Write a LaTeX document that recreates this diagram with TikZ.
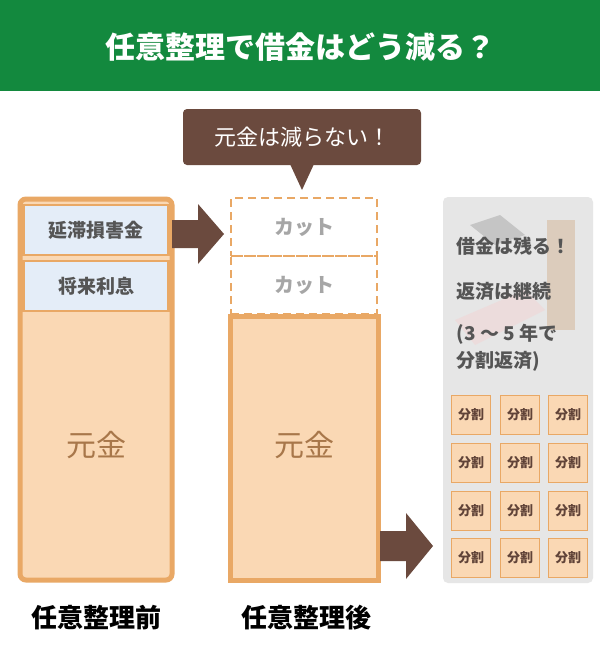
\documentclass[tikz,border=0pt]{standalone}
\usepackage{fontspec}
\setmainfont{Noto Sans CJK JP}
\definecolor{hdr}{HTML}{13893E}
\definecolor{brn}{HTML}{6B4A3E}
\definecolor{org}{HTML}{E9A865}
\definecolor{orgf}{HTML}{FAD8B4}
\definecolor{blu}{HTML}{E4EDF8}
\definecolor{gentxt}{HTML}{A8774A}
\definecolor{pnl}{HTML}{E6E6E6}
\definecolor{dk}{HTML}{555555}
\begin{document}
\begin{tikzpicture}[x=1pt,y=-1pt,
  px/.style={font=\fontsize{#1}{#1}\selectfont},
  cell/.style={draw=org,line width=2.5pt,fill=blu,minimum width=145pt,minimum height=50pt,inner sep=0pt,font=\fontsize{19}{19}\selectfont\bfseries,text=dk},
  cut/.style={draw=org,line width=2.5pt,dashed,dash pattern=on 8pt off 5pt,minimum width=146pt,minimum height=58pt,inner sep=0pt,font=\fontsize{20}{20}\selectfont\bfseries,text=black!35},
  bigarrow/.style={fill=brn,single arrow,single arrow head extend=8pt,inner sep=0pt},
  bun/.style={draw=org,line width=1.2pt,fill=orgf,minimum width=39pt,minimum height=39pt,inner sep=0pt,font=\fontsize{13}{13}\selectfont\bfseries,text=brn!90!black},
]
\useasboundingbox (0,0) rectangle (600,661);
\fill[white] (0,0) rectangle (600,661);
\fill[hdr] (0,0) rectangle (600,91);
\node[text=white,px=30,font=\bfseries\fontsize{30}{30}\selectfont] (title) at (300,47) {任意整理で借金はどう減る？};
% callout
\fill[brn,rounded corners=4pt] (183,109) rectangle (421,165);
\fill[brn] (290,164) -- (314,164) -- (302,190) -- cycle;
\node[text=white,font=\fontsize{22}{22}\selectfont] (call) at (302,137) {元金は減らない！};
% left column
\draw[org,line width=5pt,fill=orgf,rounded corners=6pt] (20,199) rectangle (172,580);
\node[cell] (a1) at (96,230) {延滞損害金};
\node[cell] (a2) at (96,286) {将来利息};
\node[text=gentxt,font=\fontsize{30}{30}\selectfont] (g1) at (96,445) {元金};
% middle
\node[cut] (c1) at (304,227) {カット};
\node[cut] (c2) at (304,285) {カット};
\draw[org,line width=5pt,fill=orgf] (230,316) rectangle (378,580);
\node[text=gentxt,font=\fontsize{30}{30}\selectfont] (g2) at (304,445) {元金};
% arrows
\fill[brn] (172,220) -- (198,220) -- (198,204) -- (224,234) -- (198,264) -- (198,248) -- (172,248) -- cycle;
\fill[brn] (380,531) -- (406,531) -- (406,513) -- (433,546) -- (406,579) -- (406,561) -- (380,561) -- cycle;
% panel
\fill[pnl,rounded corners=5pt] (443,197) rectangle (593,583);
\begin{scope}[opacity=0.25]
\fill[black!60] (470,225) -- (500,215) -- (525,235) -- (495,245) -- cycle;
\fill[pink] (455,320) -- (525,290) -- (545,310) -- (475,345) -- cycle;
\fill[brown] (547,220) rectangle (575,330);
\end{scope}
\begin{scope}[text=dk,font=\fontsize{19}{24}\selectfont\bfseries]
\node[anchor=west] (t1) at (453,246) {借金は残る！};
\node[anchor=west] (t2) at (453,291) {返済は継続};
\node[anchor=west] (t3) at (453,334) {(3 ～ 5 年で};
\node[anchor=west] (t4) at (453,361) {分割返済)};
\end{scope}
\foreach \r/\y in {1/415,2/463,3/511,4/558}{
  \foreach \c/\x in {1/471,2/520,3/568}{
    \node[bun] (b\r\c) at (\x,\y) {分割};
  }
}
\node[font=\fontsize{26}{26}\selectfont\bfseries] (l1) at (96,618) {任意整理前};
\node[font=\fontsize{26}{26}\selectfont\bfseries] (l2) at (306,618) {任意整理後};
\end{tikzpicture}
\end{document}
